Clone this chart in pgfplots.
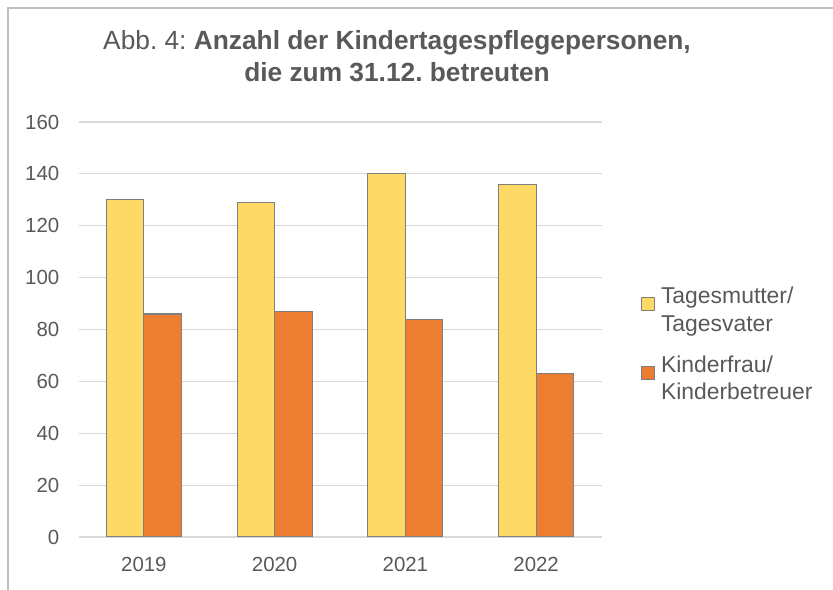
\documentclass[border=0pt]{standalone}
\usepackage{pgfplots}
\pgfplotsset{compat=1.18}
\usepackage{fontspec}
\setmainfont{Liberation Sans}
\frenchspacing
\definecolor{txt}{HTML}{595959}
\definecolor{grd}{HTML}{D9D9D9}
\definecolor{yel}{HTML}{FFD966}
\definecolor{ora}{HTML}{ED7D31}
\definecolor{edge}{HTML}{7F7F7F}
\definecolor{frame}{HTML}{BFBFBF}
\begin{document}
\begin{tikzpicture}
\useasboundingbox (0bp,0bp) rectangle (833bp,590bp);
\draw[frame, line width=1.2bp] (8bp,0bp) -- (8bp,582bp) -- (833bp,582bp);
\node[text=txt, font=\fontsize{26.4}{32}\selectfont, anchor=base, inner sep=0pt] at (397bp,540bp)
  {Abb. 4: \textbf{Anzahl der Kindertagespflegepersonen,}};
\node[text=txt, font=\fontsize{26.4}{32}\selectfont\bfseries, anchor=base, inner sep=0pt] at (397bp,508bp)
  {die zum 31.12. betreuten};
\begin{axis}[
  at={(78.5bp,53bp)}, anchor=south west,
  scale only axis, width=523bp, height=415bp,
  ybar=0pt, bar width=37.5bp,
  xmin=-0.5, xmax=3.5, ymin=0, ymax=160,
  xtick={0,1,2,3}, xticklabels={2019,2020,2021,2022},
  ytick={0,20,...,160},
  axis x line*=bottom, axis y line*=left,
  x axis line style={grd, line width=1.5bp, -},
  y axis line style={draw=none},
  major tick length=0pt, tick style={draw=none},
  ymajorgrids, grid style={grd, line width=1.2bp},
  tick label style={text=txt, font=\fontsize{20.5}{24}\selectfont},
  /pgf/number format/assume math mode=true,
  yticklabel style={inner sep=0pt, xshift=-19bp},
  xticklabel style={inner sep=0pt, yshift=-20bp},
  legend style={at={(1.075,0.465)}, anchor=west, draw=none, fill=none,
    font=\fontsize{23}{27.5}\selectfont, text=txt, nodes={align=left},
    row sep=19bp, inner sep=0pt},
  legend cell align=left,
  legend image code/.code={\draw[#1, line width=1bp] (0bp,-1bp) rectangle (13bp,12bp); \path (17bp,5bp);},
]
\addplot[fill=yel, draw=edge, line width=1.2bp] coordinates {(0,130) (1,129) (2,140) (3,136)};
\addlegendentry{Tagesmutter/\\Tagesvater}
\addplot[fill=ora, draw=edge, line width=1.2bp] coordinates {(0,86) (1,87) (2,84) (3,63)};
\addlegendentry{Kinderfrau/\\Kinderbetreuer}
\end{axis}
\end{tikzpicture}
\end{document}
